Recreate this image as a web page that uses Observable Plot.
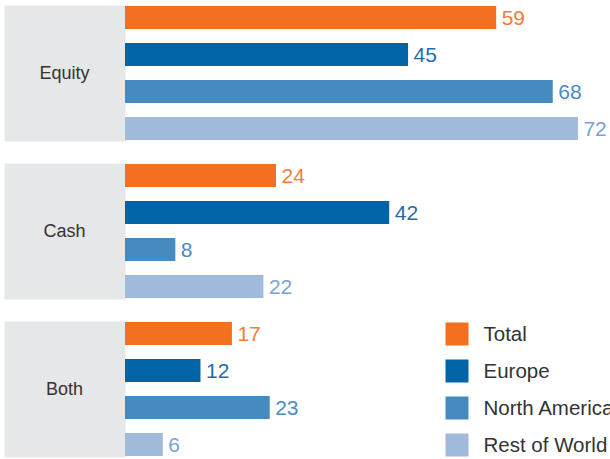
<!DOCTYPE html>
<html>
<head>
<meta charset="utf-8">
<script src="https://cdn.jsdelivr.net/npm/d3@7"></script>
<script src="https://cdn.jsdelivr.net/npm/@observablehq/plot@0.6"></script>
<style>
  html, body { margin: 0; padding: 0; background: #fff; overflow: hidden; }
  #chart { width: 610px; height: 459px; overflow: hidden; }
</style>
</head>
<body>
<div id="chart"></div>
<script>
const groups = ["Equity", "Cash", "Both"];
const series = ["Total", "Europe", "North America", "Rest of World"];
const equity = [59, 45, 68, 72];
const cash = [24, 42, 8, 22];
const both = [17, 12, 23, 6];
const barColors = ["#f37021", "#0064a7", "#458bc0", "#a0badb"];
const labelColors = ["#f47c35", "#1f6dae", "#4a8cc3", "#7ba2d1"];

const valuesByGroup = {Equity: equity, Cash: cash, Both: both};
const rows = groups.flatMap(g => series.map((s, i) => ({group: g, series: s, value: valuesByGroup[g][i], idx: i})));

const W = 610, H = 459;
const labelPanelRight = 125;

const plot = Plot.plot({
  width: W,
  height: H,
  marginLeft: 4,
  marginRight: 0,
  marginTop: 4,
  marginBottom: 0,
  style: {fontFamily: "'Liberation Sans', Arial, sans-serif", background: "#fff"},
  x: {domain: [0, 77.1], range: [labelPanelRight, W], axis: null},
  y: {domain: series, paddingInner: 0.39, paddingOuter: 0, axis: null},
  fy: {domain: groups, paddingInner: 0.138, paddingOuter: 0, axis: null},
  marks: [
    Plot.frame({fill: "#e6e7e8", stroke: null, insetRight: W - labelPanelRight}),
    Plot.text(groups, {fy: d => d, text: d => d, frameAnchor: "left", dx: 60, textAnchor: "middle", fill: "#333", fontSize: 18}),
    Plot.barX(rows, {fy: "group", y: "series", x: "value", fill: d => barColors[d.idx]}),
    Plot.text(rows, {fy: "group", y: "series", x: "value", text: d => String(d.value), dx: 5, textAnchor: "start", fill: d => labelColors[d.idx], fontSize: 21}),
    Plot.dot(series, {fy: () => "Both", y: d => d, frameAnchor: "left", dx: 452.5, symbol: "square", r: 12.98, fill: (d, i) => barColors[i], stroke: null}),
    Plot.text(series, {fy: () => "Both", y: d => d, frameAnchor: "left", dx: 479, text: d => d, textAnchor: "start", fill: "#333", fontSize: 20.5})
  ]
});
document.getElementById("chart").appendChild(plot);
</script>
</body>
</html>
